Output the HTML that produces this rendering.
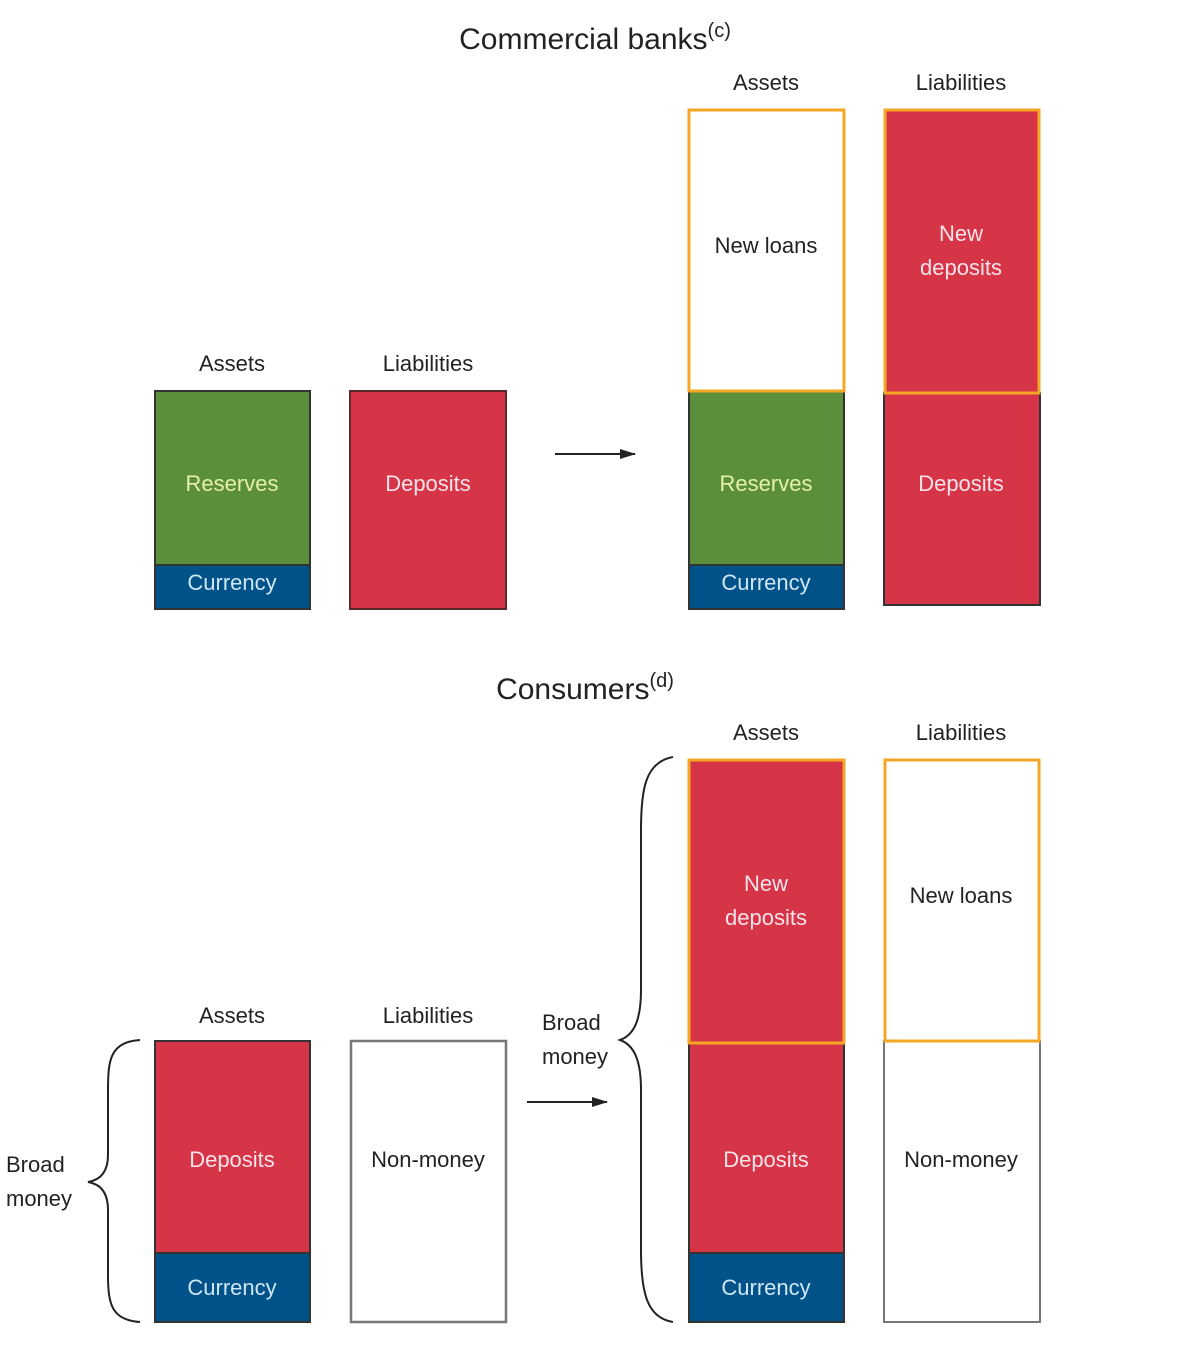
<!DOCTYPE html>
<html><head><meta charset="utf-8"><style>
body{margin:0;background:#fff;}
svg text{font-family:"Liberation Sans",sans-serif;}
</style></head><body>
<svg width="1200" height="1360" viewBox="0 0 1200 1360" xmlns="http://www.w3.org/2000/svg">
<defs><marker id="ah" markerWidth="16" markerHeight="10" refX="15" refY="5" orient="auto" markerUnits="userSpaceOnUse"><path d="M0,0 L16,5 L0,10 z" fill="#222"/></marker></defs>
<g font-size="30" fill="#222" text-anchor="middle">
<text x="595" y="49">Commercial banks<tspan font-size="20" dy="-12">(c)</tspan></text>
<text x="585" y="699">Consumers<tspan font-size="20" dy="-12">(d)</tspan></text>
</g>
<g font-size="22" fill="#222" text-anchor="middle">
<text x="232" y="371">Assets</text><text x="428" y="371">Liabilities</text>
<text x="766" y="90">Assets</text><text x="961" y="90">Liabilities</text>
<text x="766" y="740">Assets</text><text x="961" y="740">Liabilities</text>
<text x="232" y="1023">Assets</text><text x="428" y="1023">Liabilities</text>
</g>
<rect x="155" y="391" width="155" height="174" fill="#5b8f3b" stroke="#333" stroke-width="2"/>
<rect x="155" y="565" width="155" height="44" fill="#005288" stroke="#333" stroke-width="2"/>
<rect x="350" y="391" width="156" height="218" fill="#d63447" stroke="#5a2a2a" stroke-width="2"/>
<line x1="555" y1="454" x2="635" y2="454" stroke="#222" stroke-width="2" marker-end="url(#ah)"/>
<rect x="689" y="391" width="155" height="174" fill="#5b8f3b" stroke="#333" stroke-width="2"/>
<rect x="689" y="565" width="155" height="44" fill="#005288" stroke="#333" stroke-width="2"/>
<rect x="689" y="110" width="155" height="281" fill="#fff" stroke="#f5a623" stroke-width="3"/>
<rect x="884" y="393" width="156" height="212" fill="#d63447" stroke="#333" stroke-width="2"/>
<rect x="885" y="110" width="154" height="283" fill="#d63447" stroke="#f5a623" stroke-width="3"/>
<rect x="155" y="1041" width="155" height="212" fill="#d63447" stroke="#333" stroke-width="2"/>
<rect x="155" y="1253" width="155" height="69" fill="#005288" stroke="#333" stroke-width="2"/>
<rect x="351" y="1041" width="155" height="281" fill="#fff" stroke="#777" stroke-width="2.5"/>
<line x1="527" y1="1102" x2="607" y2="1102" stroke="#222" stroke-width="2" marker-end="url(#ah)"/>
<rect x="689" y="1043" width="155" height="210" fill="#d63447" stroke="#333" stroke-width="2"/>
<rect x="689" y="1253" width="155" height="69" fill="#005288" stroke="#333" stroke-width="2"/>
<rect x="689" y="760" width="155" height="283" fill="#d63447" stroke="#f5a623" stroke-width="3"/>
<rect x="884" y="1041" width="156" height="281" fill="#fff" stroke="#777" stroke-width="2"/>
<rect x="885" y="760" width="154" height="281" fill="#fff" stroke="#f5a623" stroke-width="3"/>
<path d="M140,1040 C110,1042 108,1060 108,1090 L108,1155 C108,1172 100,1180 88,1182 C100,1184 108,1192 108,1210 L108,1275 C108,1305 112,1320 140,1322" fill="none" stroke="#222" stroke-width="2"/>
<path d="M673,757 C645,762 641,790 641,830 L641,990 C641,1020 634,1035 620,1040 C634,1045 641,1060 641,1090 L641,1250 C641,1295 648,1318 673,1322" fill="none" stroke="#222" stroke-width="2"/>
<g font-size="22" fill="#222">
<text x="6" y="1172">Broad</text><text x="6" y="1206">money</text>
<text x="542" y="1030">Broad</text><text x="542" y="1064">money</text>
</g>
<g font-size="22" text-anchor="middle">
<text x="232" y="491" fill="#e6f0a8">Reserves</text>
<text x="232" y="590" fill="#cfe6f5">Currency</text>
<text x="428" y="491" fill="#fbe3ea">Deposits</text>
<text x="766" y="253" fill="#222">New loans</text>
<text x="766" y="491" fill="#e6f0a8">Reserves</text>
<text x="766" y="590" fill="#cfe6f5">Currency</text>
<text x="961" y="241" fill="#fbe3ea">New</text>
<text x="961" y="275" fill="#fbe3ea">deposits</text>
<text x="961" y="491" fill="#fbe3ea">Deposits</text>
<text x="232" y="1167" fill="#fbe3ea">Deposits</text>
<text x="232" y="1295" fill="#cfe6f5">Currency</text>
<text x="428" y="1167" fill="#222">Non-money</text>
<text x="766" y="891" fill="#fbe3ea">New</text>
<text x="766" y="925" fill="#fbe3ea">deposits</text>
<text x="766" y="1167" fill="#fbe3ea">Deposits</text>
<text x="766" y="1295" fill="#cfe6f5">Currency</text>
<text x="961" y="903" fill="#222">New loans</text>
<text x="961" y="1167" fill="#222">Non-money</text>
</g>
</svg>
</body></html>
